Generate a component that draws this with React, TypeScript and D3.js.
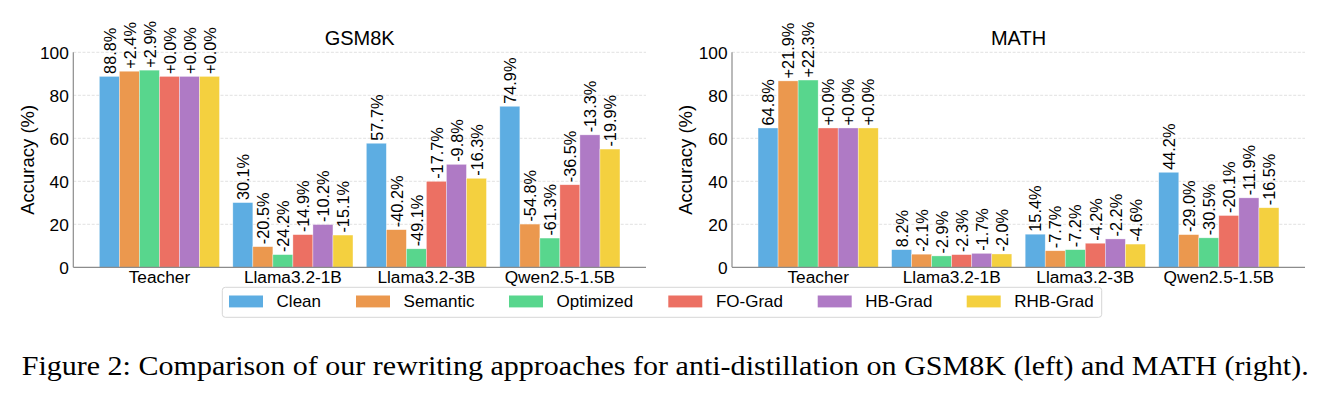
import React, { useEffect } from "react";
import * as d3 from "d3";

const categories = ["Teacher", "Llama3.2-1B", "Llama3.2-3B", "Qwen2.5-1.5B"];
const methods = ["Clean", "Semantic", "Optimized", "FO-Grad", "HB-Grad", "RHB-Grad"];
const colors = ["#5DADE2", "#EB984E", "#58D68D", "#EC7063", "#AF7AC5", "#F4D03F"];
const yTicks = [0, 20, 40, 60, 80, 100];

// Clean accuracy per category, and change (percentage points) of each rewriting method
const gsmClean = [88.8, 30.1, 57.7, 74.9];
const gsmSemantic = [2.4, -20.5, -40.2, -54.8];
const gsmOptimized = [2.9, -24.2, -49.1, -61.3];
const gsmFO = [0.0, -14.9, -17.7, -36.5];
const gsmHB = [0.0, -10.2, -9.8, -13.3];
const gsmRHB = [0.0, -15.1, -16.3, -19.9];

const mathClean = [64.8, 8.2, 15.4, 44.2];
const mathSemantic = [21.9, -2.1, -7.7, -29.0];
const mathOptimized = [22.3, -2.9, -7.2, -30.5];
const mathFO = [0.0, -2.3, -4.2, -20.1];
const mathHB = [0.0, -1.7, -2.2, -11.9];
const mathRHB = [0.0, -2.0, -4.6, -16.5];

const FONT = "'Liberation Sans', Arial, Helvetica, sans-serif";

type Panel = {
  title: string;
  clean: number[];
  deltas: number[][];
  left: number;
  right: number;
};

const panels: Panel[] = [
  { title: "GSM8K", clean: gsmClean, deltas: [gsmSemantic, gsmOptimized, gsmFO, gsmHB, gsmRHB], left: 73.3, right: 646 },
  { title: "MATH", clean: mathClean, deltas: [mathSemantic, mathOptimized, mathFO, mathHB, mathRHB], left: 732, right: 1305 },
];

const yTop = 52.3;
const yBottom = 267.3;

function fmtDelta(d: number) {
  return (d >= 0 ? "+" : "-") + Math.abs(d).toFixed(1) + "%";
}

function ChartPanel({ p }: { p: Panel }) {
  const barW = 0.15;
  const x = d3.scaleLinear().domain([-0.645, categories.length - 1 + 0.645]).range([p.left, p.right]);
  const y = d3.scaleLinear().domain([0, 100]).range([yBottom, yTop]);
  const cx = (p.left + p.right) / 2;
  const bars: { x: number; w: number; v: number; label: string; color: string }[] = [];
  categories.forEach((_, gi) => {
    methods.forEach((_, mi) => {
      const clean = p.clean[gi];
      const v = mi === 0 ? clean : clean + p.deltas[mi - 1][gi];
      const label = mi === 0 ? clean.toFixed(1) + "%" : fmtDelta(p.deltas[mi - 1][gi]);
      const x0 = x(gi - 0.45 + mi * barW);
      const x1 = x(gi - 0.45 + (mi + 1) * barW);
      bars.push({ x: x0, w: x1 - x0, v, label, color: colors[mi] });
    });
  });
  return (
    <g>
      {yTicks.slice(1).map((t) => (
        <line key={t} x1={p.left} x2={p.right} y1={y(t)} y2={y(t)} stroke="#d9d9d9" strokeWidth={0.8} strokeDasharray="3,1.6" />
      ))}
      {bars.map((b, i) => (
        <rect key={i} x={b.x} y={y(b.v)} width={b.w} height={y(0) - y(b.v)} fill={b.color} stroke="#ffffff" strokeOpacity={0.6} strokeWidth={0.6} />
      ))}
      {bars.map((b, i) => (
        <text
          key={"l" + i}
          transform={`translate(${b.x + b.w / 2 + 0.5},${y(b.v) - 2.5}) rotate(-90)`}
          textAnchor="start"
          dy="0.35em"
          fontSize={16.3}
          fontFamily={FONT}
          fill="#000"
        >
          {b.label}
        </text>
      ))}
      <line x1={p.left} x2={p.left} y1={yTop} y2={yBottom} stroke="#8c8c8c" strokeWidth={1.2} />
      <line x1={p.left} x2={p.right} y1={yBottom} y2={yBottom} stroke="#8c8c8c" strokeWidth={1.2} />
      {yTicks.map((t) => (
        <text key={"t" + t} x={p.left - 4.5} y={y(t)} dy="0.36em" textAnchor="end" fontSize={17.3} fontFamily={FONT} fill="#000">
          {t}
        </text>
      ))}
      {categories.map((c, gi) => (
        <text key={c} x={x(gi)} y={282.7} textAnchor="middle" fontSize={17.3} fontFamily={FONT} fill="#000">
          {c}
        </text>
      ))}
      <text x={cx} y={45} textAnchor="middle" fontSize={20} fontFamily={FONT} fill="#000">
        {p.title}
      </text>
      <text transform={`translate(${p.left - 46},${(yTop + yBottom) / 2}) rotate(-90)`} textAnchor="middle" dy="0.35em" fontSize={18.5} fontFamily={FONT} fill="#000">
        Accuracy (%)
      </text>
    </g>
  );
}

function Legend() {
  const fs = 17;
  const left = 222.3;
  const right = 1101.7;
  const top = 287.3;
  const bottom = 317.3;
  const patchW = 2 * fs;
  const pad = 0.8 * fs;
  const itemXs = [229, 356, 509, 668.3, 817.7, 966.7];
  return (
    <g>
      <rect x={left} y={top} width={right - left} height={bottom - top} rx={3} ry={3} fill="#fff" stroke="#d6d6d6" strokeWidth={1} />
      {methods.map((m, i) => (
        <g key={m}>
          <rect x={itemXs[i]} y={295.5} width={patchW} height={0.7 * fs} fill={colors[i]} />
          <text x={itemXs[i] + patchW + pad} y={307.2} fontSize={fs} fontFamily={FONT} fill="#000">
            {m}
          </text>
        </g>
      ))}
    </g>
  );
}

export default function App() {
  useEffect(() => {
    document.body.style.margin = "0";
  }, []);
  return (
    <svg width={1328} height={398} style={{ display: "block", background: "#fff" }}>
      <rect x={0} y={0} width={1328} height={398} fill="#fff" />
      {panels.map((p) => (
        <ChartPanel key={p.title} p={p} />
      ))}
      <Legend />
      <text
        x={21.7}
        y={375}
        fontSize={28}
        fontFamily="'Liberation Serif', 'Times New Roman', serif"
        fill="#000"
        textLength={1287}
        lengthAdjust="spacingAndGlyphs"
      >
        Figure 2: Comparison of our rewriting approaches for anti-distillation on GSM8K (left) and MATH (right).
      </text>
    </svg>
  );
}
